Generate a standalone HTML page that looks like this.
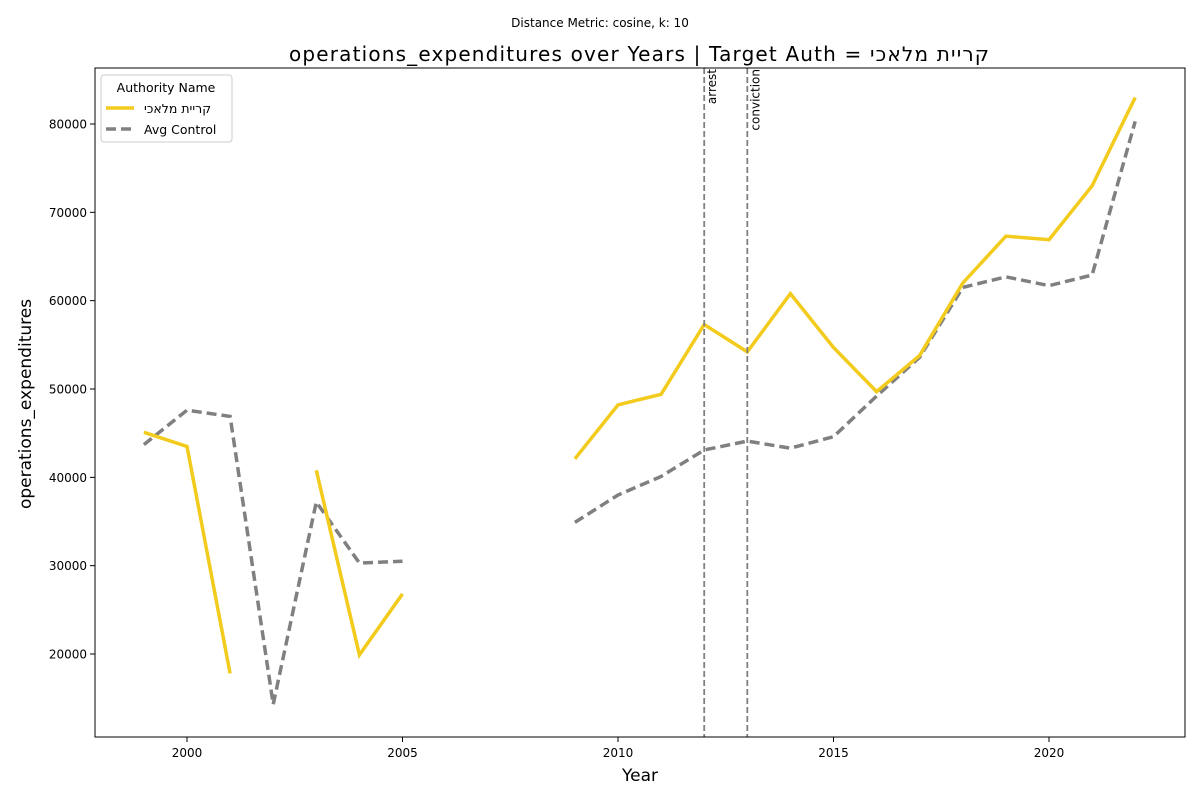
<!DOCTYPE html>
<html><head><meta charset="utf-8">
<style>
body{margin:0;background:#fff;}
svg text{font-family:"DejaVu Sans","Liberation Sans",sans-serif;}
</style></head>
<body>
<svg id="chart" width="1200" height="800" xmlns="http://www.w3.org/2000/svg">
<rect width="1200" height="800" fill="#fff"/>
<text x="600" y="27" font-size="12" text-anchor="middle">Distance Metric: cosine, k: 10</text>
<text x="639" y="61" font-size="20" text-anchor="middle" textLength="700">operations_expenditures over Years | Target Auth = קריית מלאכי</text>
<g id="plot"></g>
<rect x="95" y="68" width="1090" height="669" fill="none" stroke="#000" stroke-width="1"/>
<text x="640" y="781" font-size="17" text-anchor="middle">Year</text>
<text transform="translate(31,404) rotate(-90)" font-size="17" text-anchor="middle">operations_expenditures</text>
<g>
<rect x="101" y="75" width="131" height="67" rx="3" fill="#fff" stroke="#ccc"/>
<text x="166" y="92" font-size="12.5" text-anchor="middle">Authority Name</text>
<line x1="106" y1="108" x2="134" y2="108" stroke="#f2cb1d" stroke-width="3.5"/>
<text x="144" y="113" font-size="12.5">קריית מלאכי</text>
<line x1="106" y1="129" x2="134" y2="129" stroke="#808080" stroke-width="3.5" stroke-dasharray="10,5"/>
<text x="144" y="134" font-size="12.5">Avg Control</text>
</g>
</svg>
<script>
const years=[1999,2000,2001,2002,2003,2004,2005,2006,2007,2008,2009,2010,2011,2012,2013,2014,2015,2016,2017,2018,2019,2020,2021,2022];
const targetVals=[45100,43500,17800,null,40800,19900,26800,null,null,null,42100,48200,49400,57300,54200,60800,54700,49700,53800,62000,67300,66900,73000,83000];
const controlVals=[43700,47600,46900,14300,37200,30300,30500,null,null,null,34900,38000,40100,43100,44100,43300,44600,49200,53600,61500,62700,61700,62900,80300];
const xTicks=[2000,2005,2010,2015,2020];
const yTicks=[20000,30000,40000,50000,60000,70000,80000];
const events=[2012,2013];
const eventLabels=["arrest","conviction"];

const NS="http://www.w3.org/2000/svg";
const g=document.getElementById("plot");
const X=v=>187+(v-2000)*43.1;
const Y=v=>654-(v-20000)*530/60000;
function mk(t,a){const e=document.createElementNS(NS,t);for(const k in a)e.setAttribute(k,a[k]);g.appendChild(e);return e;}
xTicks.forEach(t=>{
  const l=mk("line",{x1:X(t),x2:X(t),y1:737,y2:742,stroke:"#000"});
  
  
  const tx=mk("text",{x:X(t),y:757,"font-size":12,"text-anchor":"middle"});tx.textContent=t;
  
  
});
yTicks.forEach(t=>{
  const l=mk("line",{x1:90,x2:95,y1:Y(t),y2:Y(t),stroke:"#000"});
  
  
  const tx=mk("text",{x:87,y:Y(t)+4.5,"font-size":12,"text-anchor":"end"});tx.textContent=t;
  
  
});
function segs(vals){const out=[];let cur=[];vals.forEach((v,i)=>{if(v==null){if(cur.length)out.push(cur);cur=[];}else cur.push([X(years[i]),Y(v)]);});if(cur.length)out.push(cur);return out;}
segs(controlVals).forEach(s=>{
  const p=mk("polyline",{points:s.map(q=>q.join(",")).join(" "),fill:"none",stroke:"#808080","stroke-width":3.5,"stroke-dasharray":"10,5"});
  
  
});
segs(targetVals).forEach(s=>{
  const p=mk("polyline",{points:s.map(q=>q.join(",")).join(" "),fill:"none",stroke:"#f2cb1d","stroke-width":3.5});
  
  
});
events.forEach((e,i)=>{
  const l=mk("line",{x1:X(e),x2:X(e),y1:68,y2:737,stroke:"#808080","stroke-width":1.8,"stroke-dasharray":"6,3"});
  
  
  const t=mk("text",{transform:`translate(${X(e)+12},69) rotate(-90)`,"font-size":12,"text-anchor":"end"});
  t.textContent=eventLabels[i];
  
  
});
</script>
</body></html>
